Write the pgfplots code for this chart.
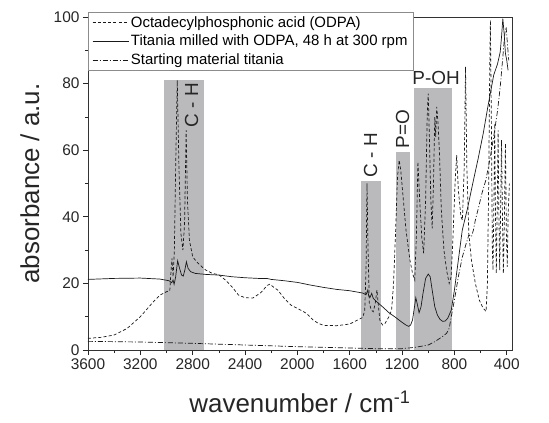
\documentclass[border=0pt]{standalone}
\usepackage{pgfplots}
\pgfplotsset{compat=1.18}
\usepackage{fontspec}
\setmainfont{Liberation Sans}
\definecolor{rectgray}{RGB}{186,186,189}
\definecolor{ln}{RGB}{25,25,25}
\begin{document}
\begin{tikzpicture}
\useasboundingbox (-88bp,-73bp) rectangle (461bp,350bp);
\begin{axis}[
 scale only axis, width=424bp, height=333bp,
 at={(0,0)}, anchor=south west,
 x dir=reverse, xmin=360, xmax=3600, ymin=0, ymax=100,
 xtick={400,800,...,3600}, ytick={0,20,...,100},
 minor x tick num=1, minor y tick num=1,
 tick pos=left, tick align=outside,
 major tick length=5bp, minor tick length=3bp,
 every tick/.style={black!85, line width=0.6bp},
 axis line style={line width=0.8bp, black!80},
 tick label style={font=\fontsize{15.5}{15.5}\selectfont, black!85},
 /pgf/number format/assume math mode=true,
 /pgf/number format/1000 sep={},
 xlabel={wavenumber / cm\textsuperscript{-1}},
 ylabel={absorbance / a.u.},
 label style={font=\fontsize{26}{26}\selectfont, black!85},
 xlabel style={at={(axis description cs:0.5,-0.155)}, anchor=center},
 ylabel style={at={(axis description cs:-0.137,0.5)}, anchor=center},
 legend style={at={(axis description cs:0,1.015)}, anchor=north west, draw=black!45, line width=0.5bp, fill=white,
   font=\fontsize{15}{17}\selectfont, inner xsep=4bp, inner ysep=2bp, row sep=2.5bp},
 legend cell align=left,
 legend image code/.code={\draw[#1] (4bp,0bp) -- (40bp,0bp);},
]
% shaded bands
\addplot[fill=rectgray, draw=none, forget plot] coordinates {(3020,0) (3020,81) (2710,81) (2710,0)} -- cycle;
\addplot[fill=rectgray, draw=none, forget plot] coordinates {(1515,0) (1515,50.7) (1360,50.7) (1360,0)} -- cycle;
\addplot[fill=rectgray, draw=none, forget plot] coordinates {(1250,0) (1250,59.4) (1140,59.4) (1140,0)} -- cycle;
\addplot[fill=rectgray, draw=none, forget plot] coordinates {(1110,0) (1110,78.8) (820,78.8) (820,0)} -- cycle;

% ODPA (dashed)
\addplot[ln, line width=0.7bp, dash pattern=on 3bp off 2.2bp] coordinates {
(3600,3.5)(3500,3.8)(3400,4.5)(3300,6.5)(3200,10)(3100,14.5)(3050,16.5)(3000,17.5)(2975,17.8)(2965,24)(2958,27.5)(2950,22)(2940,30)(2930,55)(2918,81)(2905,55)(2890,35)(2875,30)(2862,38)(2850,66)(2840,45)(2825,33)(2800,28)(2770,26.5)(2730,25)(2700,24)(2650,23)(2600,22.6)(2550,21)(2500,19)(2450,16.5)(2400,15.7)(2340,15.6)(2280,17.2)(2230,19.4)(2210,19.8)(2180,18.8)(2150,18)(2100,15.5)(2050,13.5)(2000,12.5)(1930,11)(1880,9)(1840,8)(1800,7.4)(1700,7.3)(1600,7.8)(1550,8.8)(1500,9.8)(1485,12)(1475,25)(1468,50)(1460,30)(1450,14)(1435,12)(1420,11.5)(1405,14)(1392,18)(1380,13)(1370,9)(1350,7.5)(1330,8)(1300,10)(1280,12)(1265,20)(1250,35)(1235,52)(1222,57)(1210,54)(1190,45)(1170,36)(1140,27)(1120,23)(1103,21)(1090,35)(1079,56.5)(1065,45)(1050,34)(1035,29)(1020,45)(1008,70)(1000,77)(992,65)(980,45)(970,36.5)(960,50)(950,70)(943,64)(935,73)(925,68)(915,60)(900,42)(880,30)(860,24)(840,20)(825,22)(810,35)(795,50)(783,58.5)(770,48)(750,40)(739,39)(725,55)(715,85)(705,55)(690,35)(670,27)(640,20)(610,15)(580,12.5)(558,11.6)(548,20)(538,50)(530,85)(525,99)(518,70)(510,30)(505,24)(498,45)(492,68)(486,40)(480,23)(472,45)(466,66)(460,40)(454,24)(446,45)(440,63)(433,40)(426,23)(418,40)(410,62)(403,35)(396,25)(390,40)(380,50)
};
\addlegendentry{Octadecylphosphonic acid (ODPA)}

% milled (solid)
\addplot[ln, line width=0.7bp] coordinates {
(3600,21.2)(3400,21.5)(3200,21.6)(3050,21.3)(2980,20.8)(2960,20.2)(2950,21)(2942,19.7)(2930,22)(2915,26.8)(2900,24.5)(2885,22.5)(2872,22.2)(2860,24)(2848,26.5)(2835,24.5)(2815,23.5)(2780,23)(2700,22.7)(2600,22.5)(2500,22)(2400,21.7)(2300,21.5)(2235,21.5)(2200,21.2)(2100,20.8)(2000,20.3)(1900,19.5)(1800,18.8)(1700,18.2)(1600,17.8)(1500,17.1)(1475,16.6)(1462,18)(1455,16.2)(1445,15.8)(1432,17)(1420,15.5)(1400,14.7)(1350,13)(1300,11.2)(1250,9.8)(1200,8.3)(1170,7.5)(1150,7.1)(1135,7.5)(1120,9)(1105,13)(1095,15.7)(1085,14)(1070,11.2)(1055,13)(1040,17)(1020,21.5)(1000,22.8)(985,22)(970,18)(950,13)(930,10.5)(910,9.2)(890,8.6)(870,8.7)(850,9.6)(824,12)(800,18)(770,27)(740,36)(700,42.5)(660,50)(618,57.6)(580,65)(546,72.7)(500,82.5)(470,86)(450,89.5)(440,94)(430,99.5)(420,95)(410,89)(400,87)(390,84)
};
\addlegendentry{Titania milled with ODPA, 48 h at 300 rpm}

% starting titania (dash-dot)
\addplot[ln, line width=0.7bp, dash pattern=on 5bp off 2bp on 1bp off 2bp] coordinates {
(3600,2.6)(3200,2.4)(2800,2.0)(2400,1.5)(2000,1.0)(1600,0.6)(1400,0.4)(1200,0.4)(1100,0.8)(1000,1.5)(950,2.5)(900,3.8)(860,5)(840,6.5)(824,10)(800,15)(770,22)(739,28)(710,32)(690,34.5)(670,34)(655,36)(640,39)(618,42.4)(590,47)(560,51)(530,57)(500,64)(470,72)(450,79)(430,88)(415,95)(405,97)(395,92)(385,87)
};
\addlegendentry{Starting material titania}

% band labels
\node[rotate=90, anchor=east, inner sep=1bp, font=\fontsize{19}{19}\selectfont, black!85] at (axis cs:2808,80.5) {C - H};
\node[rotate=90, anchor=west, inner sep=2bp, font=\fontsize{19}{19}\selectfont, black!85] at (axis cs:1440,51.2) {C - H};
\node[rotate=90, anchor=west, inner sep=2bp, font=\fontsize{19}{19}\selectfont, black!85] at (axis cs:1195,59.9) {P=O};
\node[anchor=south, inner sep=1bp, font=\fontsize{19}{19}\selectfont, black!85] at (axis cs:940,79.2) {P-OH};
\end{axis}
\end{tikzpicture}
\end{document}
